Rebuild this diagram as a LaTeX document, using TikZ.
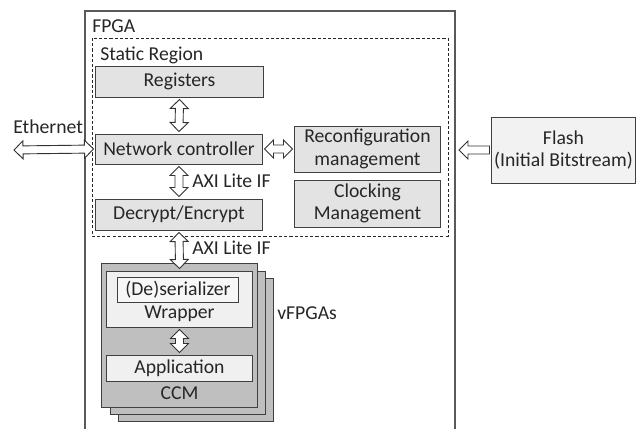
\documentclass[tikz,border=0pt]{standalone}
\usepackage{fontspec}
\setmainfont{Carlito}
\usetikzlibrary{calc}
\tikzset{
  txt/.style    = {font=\fontsize{14}{15}\selectfont, inner sep=0pt, text=black!85},
  blk/.style    = {rectangle, draw=black!75, line width=0.7pt, fill=gray!22, align=center, txt},
  lite/.style   = {blk, fill=gray!12},
  layer/.style  = {draw=black!75, line width=0.7pt, fill=gray!50},
  region/.style = {draw=black!85, line width=0.7pt, dash pattern=on 2.2pt off 1.5pt},
  chip/.style   = {draw=black!65, line width=0.8pt},
  dblarrow/.style = {draw=black!80, fill=white, line width=0.65pt, to path={
    ($(\tikztostart)!1.42pt!(\tikztotarget)$)
    -- ($(\tikztostart)!10.1pt!39.3:(\tikztotarget)$)
    -- ($(\tikztostart)!8.32pt!20:(\tikztotarget)$)
    -- ($(\tikztotarget)!8.32pt!-20:(\tikztostart)$)
    -- ($(\tikztotarget)!10.1pt!-39.3:(\tikztostart)$)
    -- ($(\tikztotarget)!1.42pt!(\tikztostart)$)
    -- ($(\tikztotarget)!10.1pt!39.3:(\tikztostart)$)
    -- ($(\tikztotarget)!8.32pt!20:(\tikztostart)$)
    -- ($(\tikztostart)!8.32pt!-20:(\tikztotarget)$)
    -- ($(\tikztostart)!10.1pt!-39.3:(\tikztotarget)$)
    -- cycle}},
  sglarrow/.style = {draw=black!80, fill=white, line width=0.65pt, to path={
    ($(\tikztostart)!3.18pt!63.5:(\tikztotarget)$)
    -- ($(\tikztotarget)!8.32pt!-20:(\tikztostart)$)
    -- ($(\tikztotarget)!10.1pt!-39.3:(\tikztostart)$)
    -- ($(\tikztotarget)!1.42pt!(\tikztostart)$)
    -- ($(\tikztotarget)!10.1pt!39.3:(\tikztostart)$)
    -- ($(\tikztotarget)!8.32pt!20:(\tikztostart)$)
    -- ($(\tikztostart)!3.18pt!-63.5:(\tikztotarget)$)
    -- cycle}}
}
\begin{document}
\begin{tikzpicture}[x=0.025cm, y=-0.025cm]
  \useasboundingbox (0,0) rectangle (643,429);
  \fill[white] (0,0) rectangle (643,429);

  % FPGA and static region
  \draw[chip] (85,429) -- (85,11) -- (455,11) -- (455,429);
  \node[txt, anchor=west] (fpga) at (92,26) {FPGA};
  \draw[region] (92,38) rectangle (448,236);
  \node[txt, anchor=west] (static) at (100,55) {Static Region};

  \node[blk, minimum width=4.175cm, minimum height=0.775cm] (reg) at (179.5,81.5) {Registers};
  \node[blk, minimum width=4.15cm, minimum height=0.75cm] (net) at (179,149) {Network controller};
  \node[blk, minimum width=4.15cm, minimum height=0.775cm] (dec) at (179,214.5) {Decrypt/Encrypt};
  \node[blk, minimum width=3.625cm, minimum height=1.15cm] (reconf) at (367.5,149) {Reconfiguration\\[1pt]management};
  \node[blk, minimum width=3.625cm, minimum height=1.175cm] (clk) at (367.5,203.5) {Clocking\\[1pt]Management};

  % external parts
  \node[lite, fill=gray!10, minimum width=3.575cm, minimum height=1.65cm] (flash) at (563.5,150) {Flash\\[1pt](Initial Bitstream)};
  \coordinate (eth) at (12,150);
  \coordinate (fpgaE) at (457,150);
  \node[txt, anchor=west] (ethlbl) at (13,127) {Ethernet};

  % vFPGAs
  \draw[layer] (118,278) rectangle (273,421);
  \draw[layer] (110,271) rectangle (265,414);
  \node[layer, minimum width=3.875cm, minimum height=3.575cm] (ccm) at (179.5,335.5) {};
  \node[lite, minimum width=3.625cm, minimum height=1.4cm] (wrap) at (179.5,299) {};
  \node[lite, fill=gray!6, minimum width=3.0cm, minimum height=0.625cm] (deser) at (178,289.5) {(De)serializer};
  \node[txt] (wraplbl) at (179.5,314) {Wrapper};
  \node[lite, minimum width=3.625cm, minimum height=0.65cm] (app) at (179.5,368) {Application};
  \node[txt] (ccmlbl) at (179.5,393) {CCM};
  \node[txt, anchor=west] (vfpga) at (277,313) {vFPGAs};

  % arrows
  \draw[dblarrow] (reg.south) to (net.north);
  \draw[dblarrow] (net.south) to (dec.north);
  \node[txt, anchor=west] (axi1) at (192,181) {AXI Lite IF};
  \draw[dblarrow] (net.east) to (reconf.west);
  \draw[dblarrow] (eth) to (net.west);
  \draw[sglarrow] (flash.west) to (fpgaE);
  \draw[dblarrow] (dec.south) to (wrap.north);
  \node[txt, anchor=west] (axi2) at (192,248) {AXI Lite IF};
  \draw[dblarrow] (wrap.south) to (app.north);
\end{tikzpicture}
\end{document}
